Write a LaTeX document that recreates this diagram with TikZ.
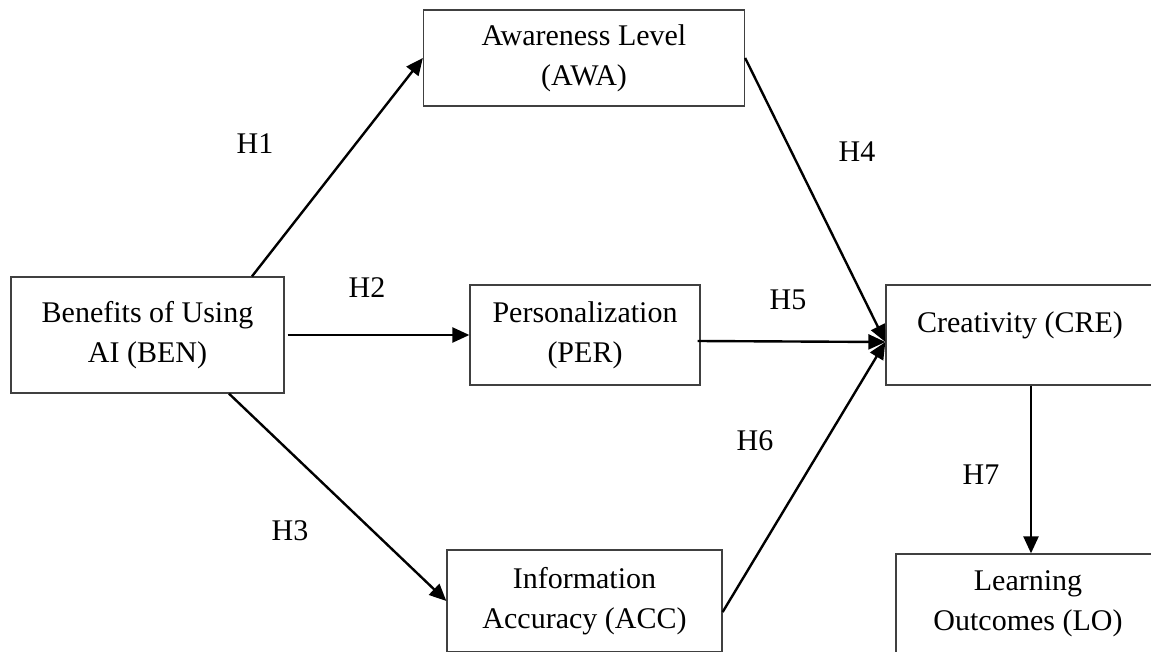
\documentclass[tikz,border=0pt]{standalone}
\usepackage{fontspec}
\setmainfont{Liberation Serif}
\usetikzlibrary{arrows.meta}

\begin{document}
\begin{tikzpicture}[x=1pt, y=-1pt,
    every node/.style={font=\fontsize{30}{40}\selectfont},
    box/.style={draw=black!75, line width=1.3pt, align=center, inner sep=0pt},
    arr/.style={line width=2.4pt, -{Triangle[length=17pt, width=15pt]}}]
    \useasboundingbox (0, 0) rectangle (1151, 652);
    \node[box, minimum width=273pt, minimum height=116pt] (ben) at (147.5, 335) {Benefits of Using\\AI (BEN)};
    \node[box, minimum width=321pt, minimum height=96pt] (awa) at (584, 58) {Awareness Level\\(AWA)};
    \node[box, minimum width=230pt, minimum height=100pt] (per) at (585, 335) {Personalization\\(PER)};
    \node[box, minimum width=275pt, minimum height=102pt] (acc) at (584.5, 601) {Information\\Accuracy (ACC)};
    \node[box, minimum width=268pt, minimum height=100pt, text depth=25pt] (cre) at (1020, 335) {Creativity (CRE)};
    \node[box, minimum width=264pt, minimum height=100pt] (lo) at (1028, 604) {Learning\\Outcomes (LO)};
    \coordinate (crein) at ([yshift=-7pt]cre.west);
    \draw[arr] ([xshift=104.5pt]ben.north) -- (awa.west);
    \draw[arr] ([xshift=3pt]ben.east) -- (per.west);
    \draw[arr] ([xshift=81.5pt]ben.south) -- (acc.west);
    \draw[arr] (awa.east) -- (crein);
    \draw[arr] ([xshift=-3pt, yshift=-6pt]per.east) -- (crein);
    \draw[arr] ([yshift=-11pt]acc.east) -- (crein);
    \draw[arr] ([xshift=11pt]cre.south) -- ([xshift=11pt]cre.south |- lo.north);
    \node[anchor=base] (h1) at (255, 154) {H1};
    \node[anchor=base] (h2) at (367, 298) {H2};
    \node[anchor=base] (h3) at (290, 540) {H3};
    \node[anchor=base] (h4) at (857, 162) {H4};
    \node[anchor=base] (h5) at (788, 309) {H5};
    \node[anchor=base] (h6) at (755, 450) {H6};
    \node[anchor=base] (h7) at (981, 484) {H7};
\end{tikzpicture}
\end{document}
